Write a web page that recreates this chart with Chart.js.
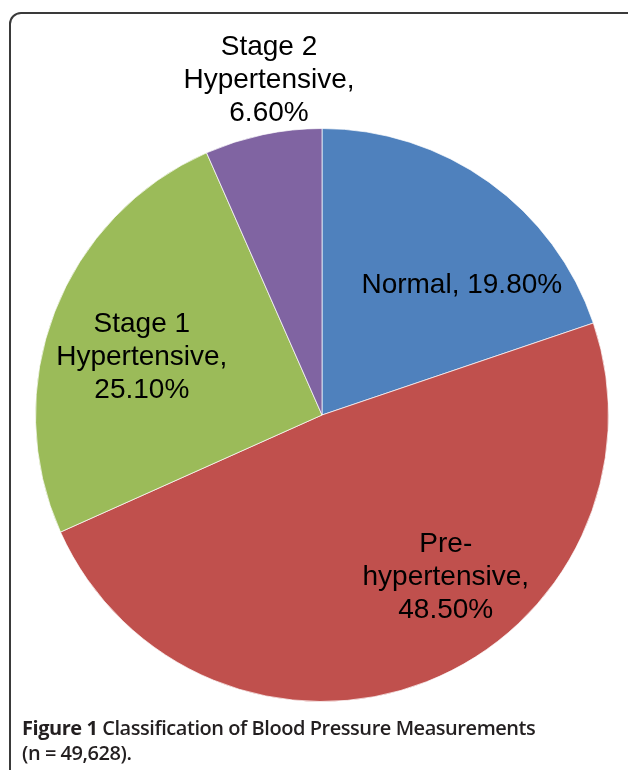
<!DOCTYPE html>
<html>
<head>
<meta charset="utf-8">
<script src="https://cdn.jsdelivr.net/npm/chart.js@4/dist/chart.umd.min.js"></script>
<style>
  html, body { margin: 0; padding: 0; background: #ffffff; }
  body { width: 628px; height: 770px; position: relative; overflow: hidden; }
  #frame {
    position: absolute; left: 9px; top: 12px; width: 640px; height: 800px;
    border: 2px solid #3a3a3a; border-radius: 12px; box-sizing: border-box;
  }
  #c { position: absolute; left: 0; top: 0; }
  #caption {
    position: absolute; left: 22px; top: 715px; width: 600px;
    font-family: "Open Sans", "Lato", sans-serif; font-size: 20px; line-height: 25px;
    color: #231f20; font-weight: 600; letter-spacing: -0.45px;
  }
  #caption b { font-weight: 700; }
</style>
</head>
<body>
<div id="frame"></div>
<canvas id="c" width="628" height="770"></canvas>
<div id="caption"><b>Figure 1</b> Classification of Blood Pressure Measurements<br>(n = 49,628).</div>
<script>
// ---- data ----
const categories = ["Normal", "Pre-hypertensive", "Stage 1 Hypertensive", "Stage 2 Hypertensive"];
const percentages = [19.8, 48.5, 25.1, 6.6];
const labelLines = [
  ["Normal, 19.80%"],
  ["Pre-", "hypertensive,", "48.50%"],
  ["Stage 1", "Hypertensive,", "25.10%"],
  ["Stage 2", "Hypertensive,", "6.60%"]
];

// ---- styles ----
const sliceColors = ["#4F81BD", "#C0504D", "#9BBB59", "#8064A2"];
// label anchors relative to pie center, in units of the pie radius
const labelOffsets = [[0.488, -0.462], [0.432, 0.559], [-0.629, -0.211], [-0.185, -1.176]];

const labelPlugin = {
  id: 'sliceLabels',
  afterDatasetsDraw(chart) {
    const ctx = chart.ctx;
    const meta = chart.getDatasetMeta(0);
    ctx.save();
    ctx.font = '28px "Liberation Sans", Arial, sans-serif';
    ctx.fillStyle = '#000000';
    ctx.textAlign = 'center';
    ctx.textBaseline = 'alphabetic';
    const lh = 33;
    meta.data.forEach((arc, i) => {
      const R = arc.outerRadius;
      const ax = arc.x + labelOffsets[i][0] * R;
      const ay = arc.y + labelOffsets[i][1] * R;
      const lines = labelLines[i];
      const first = ay - (lines.length - 1) * lh / 2 + 10;
      lines.forEach((t, k) => ctx.fillText(t, ax, first + k * lh));
    });
    ctx.restore();
  }
};

new Chart(document.getElementById('c'), {
  type: 'pie',
  data: {
    labels: categories,
    datasets: [{
      data: percentages,
      backgroundColor: sliceColors,
      borderColor: 'rgba(255,255,255,0.7)',
      borderWidth: 1
    }]
  },
  options: {
    responsive: false,
    animation: false,
    layout: { padding: { left: 35, right: 19, top: 128, bottom: 68 } },
    plugins: { legend: { display: false }, tooltip: { enabled: false } }
  },
  plugins: [labelPlugin]
});
</script>
</body>
</html>
